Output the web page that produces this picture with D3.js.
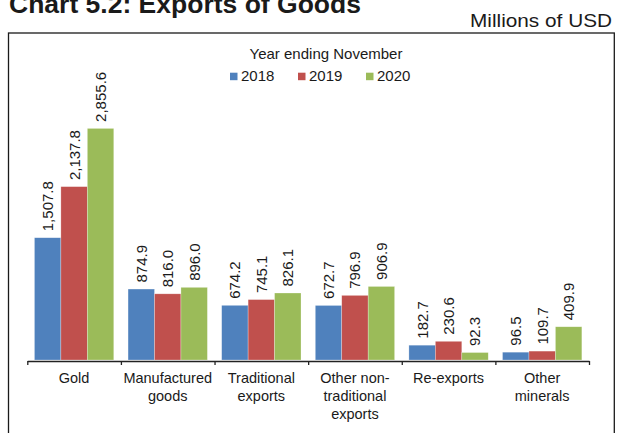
<!DOCTYPE html>
<html>
<head>
<meta charset="utf-8">
<script src="https://cdn.jsdelivr.net/npm/d3@7"></script>
<style>
  html, body { margin: 0; padding: 0; background: #fff; }
  svg { display: block; font-family: "Liberation Sans", Arial, sans-serif; }
</style>
</head>
<body>
<svg id="chart" width="617" height="433"></svg>
<script>
// Exports of goods by category, millions of USD, year ending November
const categories = [
  ["Gold"],
  ["Manufactured", "goods"],
  ["Traditional", "exports"],
  ["Other non-", "traditional", "exports"],
  ["Re-exports"],
  ["Other", "minerals"]
];
const seriesNames = ["2018", "2019", "2020"];
const values2018 = [1507.8, 874.9, 674.2, 672.7, 182.7, 96.5];
const values2019 = [2137.8, 816.0, 745.1, 796.9, 230.6, 109.7];
const values2020 = [2855.6, 896.0, 826.1, 906.9, 92.3, 409.9];
const seriesColors = ["#4F81BD", "#C0504D", "#9BBB59"];

const seriesValues = [values2018, values2019, values2020];
const catKeys = categories.map(c => c.join(" "));

const svg = d3.select("#chart");
const ink = "#1a1a1a";

// Title (sits partly above the top edge of the page)
svg.append("text")
  .attr("x", 9).attr("y", 12.5)
  .attr("font-size", 26).attr("font-weight", "bold")
  .attr("fill", ink)
  .attr("textLength", 352).attr("lengthAdjust", "spacingAndGlyphs")
  .text("Chart 5.2: Exports of Goods");

svg.append("text")
  .attr("x", 612).attr("y", 26.7)
  .attr("text-anchor", "end")
  .attr("font-size", 19).attr("fill", ink)
  .attr("textLength", 142).attr("lengthAdjust", "spacingAndGlyphs")
  .text("Millions of USD");

// Frame around the chart
svg.append("rect")
  .attr("x", 8.5).attr("y", 33)
  .attr("width", 605.8).attr("height", 420)
  .attr("fill", "none").attr("stroke", ink).attr("stroke-width", 1.3);

// Scales
const plotLeft = 27.3, plotRight = 589, baseY = 360;
const x0 = d3.scaleBand().domain(catKeys).range([plotLeft, plotRight]).padding(0);
const x1 = d3.scaleBand().domain(seriesNames).range([0, x0.bandwidth()])
  .paddingInner(0).paddingOuter(0.27);
const y = d3.scaleLinear().domain([0, 3500]).range([baseY, baseY - 3500 * 0.0811]);
const fmt = d3.format(",.1f");

// Bars and value labels
const groups = svg.append("g").selectAll("g")
  .data(catKeys)
  .join("g")
  .attr("transform", d => `translate(${x0(d)},0)`);

groups.each(function(cat, ci) {
  const g = d3.select(this);
  const rows = seriesNames.map((s, si) => ({ s, si, v: seriesValues[si][ci] }));
  g.selectAll("rect")
    .data(rows)
    .join("rect")
    .attr("x", d => x1(d.s))
    .attr("y", d => y(d.v))
    .attr("width", x1.bandwidth())
    .attr("height", d => y(0) - y(d.v))
    .attr("fill", d => seriesColors[d.si])
    .attr("stroke", "#ffffff").attr("stroke-opacity", 0.45).attr("stroke-width", 0.6);
  g.selectAll("text")
    .data(rows)
    .join("text")
    .attr("transform", d => `translate(${x1(d.s) + x1.bandwidth() / 2},${y(d.v) - 6.5}) rotate(-90)`)
    .attr("dy", "0.36em")
    .attr("font-size", 15).attr("fill", ink)
    .text(d => fmt(d.v));
});

// Category axis with ticks on the band boundaries
const tickScale = d3.scaleLinear().domain([0, categories.length]).range([plotLeft, plotRight]);
const axis = svg.append("g")
  .attr("transform", `translate(0,${baseY + 1})`)
  .call(d3.axisBottom(tickScale)
    .tickValues(d3.range(categories.length + 1))
    .tickFormat("")
    .tickSize(4)
    .tickSizeOuter(0));
axis.select(".domain").attr("stroke", "#222").attr("stroke-width", 1.5);
axis.selectAll(".tick line").attr("stroke", "#222").attr("stroke-width", 1.3);

// Category labels
const catLabels = svg.append("g").selectAll("text")
  .data(categories)
  .join("text")
  .attr("x", (d, i) => x0(catKeys[i]) + x0.bandwidth() / 2)
  .attr("y", 383)
  .attr("text-anchor", "middle")
  .attr("font-size", 14.5).attr("fill", ink);
catLabels.selectAll("tspan")
  .data(d => d)
  .join("tspan")
  .attr("x", function() { return d3.select(this.parentNode).attr("x"); })
  .attr("dy", (d, i) => i === 0 ? 0 : 18)
  .text(d => d);

// Legend
svg.append("text")
  .attr("x", 326).attr("y", 59.3)
  .attr("text-anchor", "middle")
  .attr("font-size", 15).attr("fill", ink)
  .text("Year ending November");

const legend = svg.append("g").selectAll("g")
  .data(seriesNames)
  .join("g")
  .attr("transform", (d, i) => `translate(${230 + i * 68},0)`);
legend.append("rect")
  .attr("x", 0).attr("y", 72.7)
  .attr("width", 7.5).attr("height", 7.5)
  .attr("fill", (d, i) => seriesColors[i]);
legend.append("text")
  .attr("x", 11).attr("y", 80.7)
  .attr("font-size", 15).attr("fill", ink)
  .text(d => d);
</script>
</body>
</html>
